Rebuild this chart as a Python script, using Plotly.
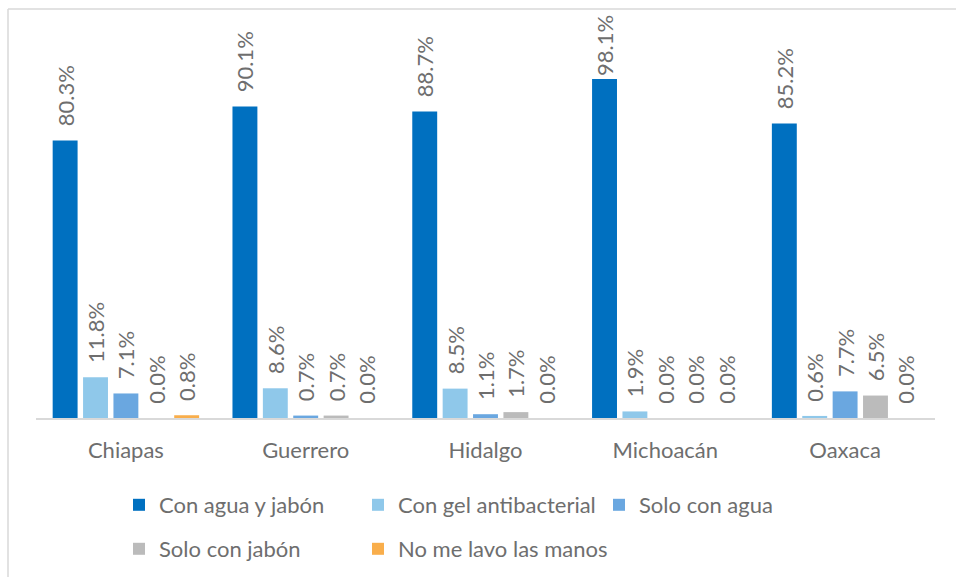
import plotly.graph_objects as go

categories = ["Chiapas", "Guerrero", "Hidalgo", "Michoacán", "Oaxaca"]
series_names = ["Con agua y jabón", "Con gel antibacterial", "Solo con agua",
                "Solo con jabón", "No me lavo las manos"]
con_agua_y_jabon = [80.3, 90.1, 88.7, 98.1, 85.2]
con_gel = [11.8, 8.6, 8.5, 1.9, 0.6]
solo_agua = [7.1, 0.7, 1.1, 0.0, 7.7]
solo_jabon = [0.0, 0.7, 1.7, 0.0, 6.5]
no_lavo = [0.8, 0.0, 0.0, 0.0, 0.0]
colors = ["#0070C0", "#8FC8EA", "#6AA7E0", "#BBBBBB", "#F9AE4B"]

W, H = 956, 577
L, R, T, B = 36, 21, 21, 159
pw, ph = W - L - R, H - T - B
ymax = ph / 3.456

TXT = "#6E6E6E"
FONT = "Lato"
NB = "\u00a0"


def label(v):
    # labels near the top of the chart sit directly on the bar (kept inside chart)
    pad = "" if v > 95 else NB * 2
    return f"{pad}{v:.1f}%"


def px2x(p):
    return (p - L) / pw


def px2y(p):
    return (H - B - p) / ph


# legend slot (left px, top px) for each series: two rows, three columns
legend_pos = [(119, 484), (358, 484), (599, 484), (119, 528), (358, 528)]

fig = go.Figure()
all_vals = [con_agua_y_jabon, con_gel, solo_agua, solo_jabon, no_lavo]
legends = {}
for i, (name, vals, col) in enumerate(zip(series_names, all_vals, colors)):
    lname = "legend" if i == 0 else f"legend{i + 1}"
    fig.add_trace(go.Bar(
        x=categories, y=vals, name=name, marker_color=col, marker_line_width=0,
        text=[label(v) for v in vals], textposition="outside", textangle=-90,
        textfont=dict(family=FONT, size=22, color=TXT), cliponaxis=False,
        constraintext="none", legend=lname, showlegend=True,
    ))
    lx, ly = legend_pos[i]
    legends[lname] = dict(orientation="h", x=px2x(lx), xanchor="left",
                          y=px2y(ly), yanchor="top", visible=True,
                          font=dict(family=FONT, size=22, color=TXT),
                          bgcolor="rgba(0,0,0,0)")

fig.update_layout(
    width=W, height=H, showlegend=True,
    margin=dict(l=L, r=R, t=T, b=B, autoexpand=False),
    paper_bgcolor="white", plot_bgcolor="white",
    barmode="group", bargap=0.155, bargroupgap=0.18,
    font=dict(family=FONT, size=22, color=TXT),
    xaxis=dict(showgrid=False, showline=True, linecolor="#D9D9D9", linewidth=1.5,
               ticks="outside", ticklen=12, tickcolor="rgba(0,0,0,0)",
               tickfont=dict(family=FONT, size=22, color=TXT)),
    yaxis=dict(range=[0, ymax], visible=False, showgrid=False, zeroline=False),
    shapes=[
        dict(type="line", xref="paper", yref="paper", x0=px2x(8), x1=px2x(960),
             y0=px2y(9), y1=px2y(9), line=dict(color="#D9D9D9", width=1.5)),
        dict(type="line", xref="paper", yref="paper", x0=px2x(8), x1=px2x(8),
             y0=px2y(9), y1=px2y(580), line=dict(color="#D9D9D9", width=1.5)),
    ],
    **legends,
)

fig.write_html("out.html", config={"displayModeBar": False},
               post_script="document.body.style.margin='0';")
